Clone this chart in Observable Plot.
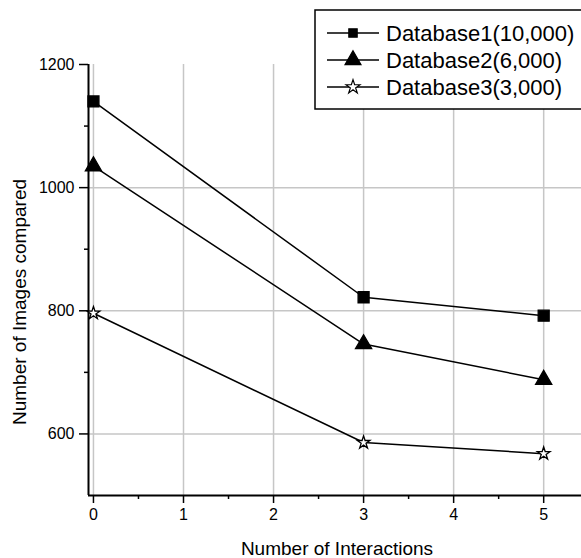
<!DOCTYPE html>
<html>
<head>
<meta charset="utf-8">
<script src="https://cdn.jsdelivr.net/npm/d3@7"></script>
<script src="https://cdn.jsdelivr.net/npm/@observablehq/plot@0.6"></script>
<style>
  html, body { margin: 0; padding: 0; background: white; }
  #chart { width: 581px; height: 558px; }
</style>
</head>
<body>
<div id="chart"></div>
<script>
const xValues = [0, 3, 5];
const db1 = [1140, 822, 792];
const db2 = [1035, 746, 688];
const db3 = [796, 586, 568];
const seriesNames = ["Database1(10,000)", "Database2(6,000)", "Database3(3,000)"];
const seriesSymbols = ["square", "triangle", "star"];
const seriesFill = ["black", "black", "white"];
const seriesR = [6.2, 6.0, 4.0];
const xTicks = [0, 1, 2, 3, 4, 5];
const xMinor = [0.5, 1.5, 2.5, 3.5, 4.5];
const yTicks = [600, 800, 1000, 1200];
const yGrid = [600, 800, 1000];
const yMinor = [700, 900, 1100];
const xDomain = [-0.055, 5.42];
const yDomain = [500, 1200];
const xLabel = "Number of Interactions";
const yLabel = "Number of Images compared";

const allSeries = [db1, db2, db3];
const data = allSeries.flatMap((vals, s) =>
  xValues.map((x, i) => ({ series: seriesNames[s], x, y: vals[i] }))
);

const W = 581, H = 558, mL = 88, mT = 64, mB = 63, mR = 0;
const gridStyle = { stroke: "#c6c6c6", strokeOpacity: 1, strokeWidth: 1.5 };

const plot = Plot.plot({
  width: W, height: H,
  marginLeft: mL, marginTop: mT, marginBottom: mB, marginRight: mR,
  x: { domain: xDomain },
  y: { domain: yDomain },
  style: { fontFamily: "'Liberation Sans', Arial, sans-serif", fontSize: "16px", color: "black", background: "white" },
  marks: [
    Plot.gridX(xTicks, gridStyle),
    Plot.gridY(yGrid, gridStyle),
    Plot.axisX(xTicks, { tickSize: 8, tickPadding: 5, label: null, strokeWidth: 1.5, fontSize: 16 }),
    Plot.axisX(xMinor, { tickSize: 4, tickFormat: () => "", label: null, strokeWidth: 1.5 }),
    Plot.axisY(yTicks, { tickSize: 9, tickPadding: 5, label: null, strokeWidth: 1.5, tickFormat: d => String(d), fontSize: 16 }),
    Plot.axisY(yMinor, { tickSize: 4, tickFormat: () => "", label: null, strokeWidth: 1.5 }),
    Plot.ruleX([xDomain[0]], { stroke: "black", strokeWidth: 2 }),
    Plot.ruleY([yDomain[0]], { stroke: "black", strokeWidth: 2 }),
    Plot.line(data, { x: "x", y: "y", z: "series", stroke: "black", strokeWidth: 1.5 }),
    ...seriesNames.map((name, s) =>
      Plot.dot(data.filter(d => d.series === name), {
        x: "x", y: "y", symbol: () => seriesSymbols[s], r: seriesR[s],
        fill: seriesFill[s], stroke: "black", strokeWidth: 1.3
      })
    )
  ]
});

const svg = d3.select(plot);
// axis titles
svg.append("text")
  .attr("x", 337).attr("y", 555)
  .attr("text-anchor", "middle")
  .attr("font-size", 19)
  .attr("fill", "black")
  .text(xLabel);
svg.append("text")
  .attr("transform", `translate(26,302) rotate(-90)`)
  .attr("text-anchor", "middle")
  .attr("font-size", 19)
  .attr("fill", "black")
  .text(yLabel);

// legend
const lg = svg.append("g");
lg.append("rect").attr("x", 315).attr("y", 10).attr("width", 290).attr("height", 99)
  .attr("fill", "white").attr("stroke", "black").attr("stroke-width", 1.5);
const legSymbols = [d3.symbolSquare, d3.symbolTriangle, d3.symbolStar];
const legSizes = [70, 110, 60];
seriesNames.forEach((name, s) => {
  const yy = 33 + s * 27;
  lg.append("line").attr("x1", 327).attr("x2", 379).attr("y1", yy).attr("y2", yy)
    .attr("stroke", "black").attr("stroke-width", 1.5);
  lg.append("path").attr("d", d3.symbol(legSymbols[s], legSizes[s])())
    .attr("transform", `translate(353,${yy})`)
    .attr("fill", seriesFill[s]).attr("stroke", "black").attr("stroke-width", 1.2);
  lg.append("text").attr("x", 386).attr("y", yy + 8)
    .attr("text-anchor", "start")
    .attr("font-size", 22).attr("fill", "black").text(name);
});

document.getElementById("chart").appendChild(plot);
</script>
</body>
</html>
